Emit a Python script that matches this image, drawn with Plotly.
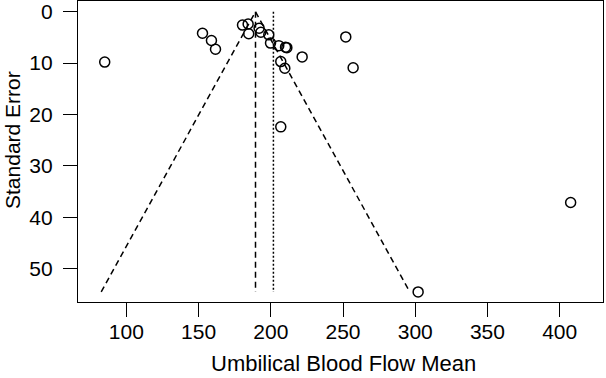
import plotly.graph_objects as go

# Study estimates (x) and their standard errors (y)
study_mean = [85.0, 152.7, 158.9, 161.7, 180.4, 184.3, 184.7, 191.9, 193.1, 198.6,
              199.8, 205.5, 210.2, 211.1, 206.9, 209.7, 221.7, 251.9, 257.0, 206.9,
              407.6, 302.0]
study_se = [9.8, 4.2, 5.6, 7.3, 2.6, 2.4, 4.3, 3.2, 4.0, 4.5,
            6.1, 6.6, 6.9, 7.0, 9.7, 11.0, 8.8, 4.9, 10.9, 22.4,
            37.1, 54.5]

fixed_est = 189.4
random_est = 201.8
se_max = 54.5
z = 1.96

x_ticks = [100, 150, 200, 250, 300, 350, 400]
y_ticks = [0, 10, 20, 30, 40, 50]

x_title = "Umbilical Blood Flow Mean"
y_title = "Standard Error"

W, H = 606, 378
ML, MR, MT, MB = 78, 3, 1, 76
PW, PH = W - ML - MR, H - MT - MB

fig = go.Figure()

# Funnel (pseudo confidence region)
fig.add_trace(go.Scatter(
    x=[fixed_est - z * se_max, fixed_est, fixed_est + z * se_max],
    y=[se_max, 0, se_max],
    mode="lines", line=dict(color="black", width=1.5, dash="6px,4px"),
    hoverinfo="skip", showlegend=False))
# Fixed-effect estimate
fig.add_trace(go.Scatter(
    x=[fixed_est, fixed_est], y=[0, se_max],
    mode="lines", line=dict(color="black", width=1.5, dash="6px,4px"),
    hoverinfo="skip", showlegend=False))
# Random-effects estimate
fig.add_trace(go.Scatter(
    x=[random_est, random_est], y=[0, se_max],
    mode="lines", line=dict(color="black", width=1.5, dash="2px,2px"),
    hoverinfo="skip", showlegend=False))
# Studies
fig.add_trace(go.Scatter(
    x=study_mean, y=study_se, mode="markers",
    marker=dict(symbol="circle-open", size=10, color="black", line=dict(width=1.5)),
    showlegend=False))

font = dict(family="Liberation Sans, Arial, Helvetica, sans-serif", size=21, color="black")
xtitle_font = dict(font, size=22)

axis_common = dict(
    showgrid=False, zeroline=False, automargin=False,
    showline=True, mirror=True, linecolor="black", linewidth=1.3,
    ticks="outside", ticklen=14, tickwidth=1.3, tickcolor="black",
    tickfont=font,
)

fig.update_layout(
    width=W, height=H,
    margin=dict(l=ML, r=MR, t=MT, b=MB, autoexpand=False),
    paper_bgcolor="white", plot_bgcolor="white",
    font=font,
    showlegend=False,
    xaxis=dict(range=[66.5, 430], tickvals=x_ticks, ticklabelstandoff=-3,
               ticktext=[str(v) for v in x_ticks], **axis_common),
    yaxis=dict(range=[56.46, -2.08], tickvals=y_ticks, ticklabelstandoff=6,
               ticktext=[str(v) for v in y_ticks], **axis_common),
    annotations=[
        dict(text=x_title, xref="paper", yref="paper",
             x=(343 - ML) / PW, y=-(363 - (MT + PH)) / PH,
             xanchor="center", yanchor="middle", showarrow=False, font=xtitle_font),
        dict(text=y_title, xref="paper", yref="paper", textangle=-90,
             x=(12 - ML) / PW, y=1 - (140 - MT) / PH,
             xanchor="center", yanchor="middle", showarrow=False, font=font),
    ],
)

fig.write_html(
    "out.html",
    config={"displayModeBar": False},
    post_script="document.body.style.margin='0';document.body.style.overflow='hidden';",
)
